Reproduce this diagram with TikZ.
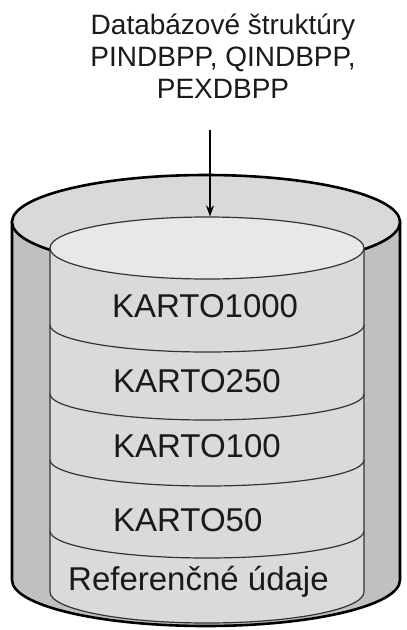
\documentclass[tikz,border=0pt]{standalone}
\usepackage{fontspec}
\setmainfont{Liberation Sans}
\usetikzlibrary{shapes.geometric,arrows.meta}
\definecolor{walls}{HTML}{C0C0C0}
\definecolor{ring}{HTML}{D9D9D9}
\definecolor{body}{HTML}{DADADA}
\definecolor{topface}{HTML}{E8E8E8}
\definecolor{txt}{HTML}{1A1A1A}
\tikzset{
  outerline/.style={draw=black,line width=2.6pt},
  innerline/.style={draw=black!80,line width=1.2pt},
  divider/.style={draw=black!80,line width=1.2pt},
  layerlabel/.style={anchor=base west,inner sep=0pt,text=txt,font=\fontsize{33}{38}\selectfont},
  toplabel/.style={anchor=base,inner sep=0pt,align=center,text=txt,font=\fontsize{28}{32}\selectfont},
}
\begin{document}
\begin{tikzpicture}[x=1pt,y=-1pt]
\useasboundingbox (0,0) rectangle (407,630);
% outer body
\path[outerline,fill=walls] (12,222) -- (12,580) arc[start angle=180,end angle=0,x radius=194,y radius=46] -- (400,222) -- cycle;
% outer top
\path[outerline,fill=ring] (206,222) ellipse[x radius=194,y radius=47];
% inner body
\path[innerline,fill=body] (50,248) -- (50,592) arc[start angle=180,end angle=0,x radius=157,y radius=31] -- (364,248) -- cycle;
% inner top
\node[ellipse,innerline,fill=topface,minimum width=314pt,minimum height=62pt,inner sep=0pt] (innertop) at (207,248) {};
% dividers
\draw[divider] (50,325) arc[start angle=180,end angle=0,x radius=157,y radius=27];
\draw[divider] (50,394) arc[start angle=180,end angle=0,x radius=157,y radius=26];
\draw[divider] (50,460) arc[start angle=180,end angle=0,x radius=157,y radius=26];
\draw[divider] (50,531) arc[start angle=180,end angle=0,x radius=157,y radius=27];
% labels
\node[layerlabel] (k1000) at (112,317) {KARTO1000};
\node[layerlabel] (k250) at (113,392) {KARTO250};
\node[layerlabel] (k100) at (113,457) {KARTO100};
\node[layerlabel] (k50) at (113,531) {KARTO50};
\node[layerlabel] (ref) at (68,590) {Referenčné údaje};
\node[toplabel] (title) at (223,98) {Databázové štruktúry\\PINDBPP, QINDBPP,\\PEXDBPP};
\coordinate (arrowstart) at (210,130);
\draw[line width=1.8pt,-{Stealth[length=11pt,width=8pt]}] (arrowstart) -- (arrowstart |- innertop.north);
\end{tikzpicture}
\end{document}
